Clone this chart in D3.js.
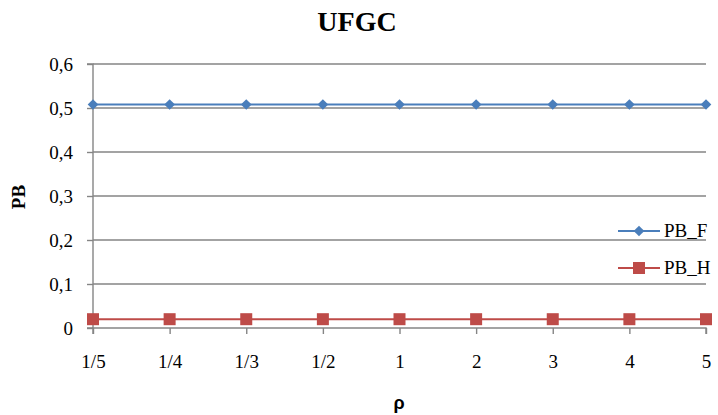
<!DOCTYPE html>
<html>
<head>
<meta charset="utf-8">
<script src="https://cdn.jsdelivr.net/npm/d3@7"></script>
<style>
  body { margin: 0; background: #fff; }
  svg { display: block; }
</style>
</head>
<body>
<svg id="chart" width="718" height="415"></svg>
<script>
// data
let categories = ['1/5', '1/4', '1/3', '1/2', '1', '2', '3', '4', '5'];
let pb_f = [0.508, 0.508, 0.508, 0.508, 0.508, 0.508, 0.508, 0.508, 0.508];
let pb_h = [0.02, 0.02, 0.02, 0.02, 0.02, 0.02, 0.02, 0.02, 0.02];
let y_ticks = [0, 0.1, 0.2, 0.3, 0.4, 0.5, 0.6];
let series_names = ['PB_F', 'PB_H'];

let LEFT = 93, RIGHT = 706, TOP = 64, BOTTOM = 328;
let GRID = '#858585';
let BLUE = '#4a7ebb', RED = '#be4b48';
let SERIF = '"Liberation Serif", "Times New Roman", Times, serif';

let svg = d3.select('#chart');

let xScale = d3.scalePoint().domain(categories).range([LEFT, RIGHT]).padding(0);
let yScale = d3.scaleLinear().domain([0, 0.6]).range([BOTTOM, TOP]);

let fmt = d => d === 0 ? '0' : d3.format('.1f')(d).replace('.', ',');

// gridlines
svg.append('g')
  .selectAll('line')
  .data(y_ticks.filter(d => d > 0))
  .join('line')
  .attr('x1', LEFT)
  .attr('x2', RIGHT)
  .attr('y1', d => yScale(d))
  .attr('y2', d => yScale(d))
  .attr('stroke', GRID)
  .attr('stroke-width', 1.4);

// y axis
let yAxis = svg.append('g')
  .attr('transform', `translate(${LEFT},0)`)
  .call(d3.axisLeft(yScale).tickValues(y_ticks).tickFormat(fmt).tickSize(6).tickPadding(14));

// x axis
let xAxis = svg.append('g')
  .attr('transform', `translate(0,${BOTTOM})`)
  .call(d3.axisBottom(xScale).tickSize(6).tickPadding(21));

[yAxis, xAxis].forEach(ax => {
  ax.select('.domain').attr('stroke', GRID).attr('stroke-width', 1.4);
  ax.selectAll('.tick line').attr('stroke', GRID).attr('stroke-width', 1.4);
  ax.selectAll('.tick text')
    .attr('fill', '#000')
    .style('font-family', SERIF)
    .style('font-size', '19px');
});
xAxis.select('.domain').attr('d', `M${LEFT},6V0H${RIGHT}V6`);
yAxis.select('.domain').attr('d', `M-6,${TOP}H0V${BOTTOM}H-6`);

// series lines
let line = d3.line()
  .x((d, i) => xScale(categories[i]))
  .y(d => yScale(d));

svg.append('path')
  .datum(pb_f)
  .attr('d', line)
  .attr('fill', 'none')
  .attr('stroke', BLUE)
  .attr('stroke-width', 2);

svg.append('path')
  .datum(pb_h)
  .attr('d', line)
  .attr('fill', 'none')
  .attr('stroke', RED)
  .attr('stroke-width', 2);

let diamond = d3.symbol().type(d3.symbolDiamond2).size(72);

svg.append('g')
  .selectAll('path')
  .data(pb_f)
  .join('path')
  .attr('d', diamond)
  .attr('transform', (d, i) => `translate(${xScale(categories[i])},${yScale(d)})`)
  .attr('fill', BLUE);

svg.append('g')
  .selectAll('rect')
  .data(pb_h)
  .join('rect')
  .attr('x', (d, i) => xScale(categories[i]) - 6)
  .attr('y', d => yScale(d) - 6)
  .attr('width', 12)
  .attr('height', 12)
  .attr('fill', RED);

// legend
let legend = svg.append('g');
let leg_y = [231, 268];
let leg_col = [BLUE, RED];
series_names.forEach((name, i) => {
  let g = legend.append('g').attr('transform', `translate(0,${leg_y[i]})`);
  g.append('line')
    .attr('x1', 618).attr('x2', 660)
    .attr('stroke', leg_col[i]).attr('stroke-width', 2);
  if (i == 0) {
    g.append('path').attr('d', diamond).attr('transform', 'translate(639,0)').attr('fill', BLUE);
  } else {
    g.append('rect').attr('x', 633).attr('y', -6).attr('width', 12).attr('height', 12).attr('fill', RED);
  }
  g.append('text')
    .attr('x', 664)
    .attr('y', 6)
    .style('font-family', SERIF)
    .style('font-size', '19px')
    .text(name);
});

// title and axis labels
svg.append('text')
  .attr('x', 357)
  .attr('y', 31)
  .attr('text-anchor', 'middle')
  .style('font-family', SERIF)
  .style('font-weight', 'bold')
  .style('font-size', '28px')
  .text('UFGC');

svg.append('text')
  .attr('transform', 'translate(25,197) rotate(-90)')
  .attr('text-anchor', 'middle')
  .style('font-family', SERIF)
  .style('font-weight', 'bold')
  .style('font-size', '19px')
  .text('PB');

svg.append('text')
  .attr('x', 399)
  .attr('y', 409)
  .attr('text-anchor', 'middle')
  .style('font-family', '"Liberation Sans", Arial, sans-serif')
  .style('font-weight', 'bold')
  .style('font-size', '18px')
  .text('ρ');
</script>
</body>
</html>
